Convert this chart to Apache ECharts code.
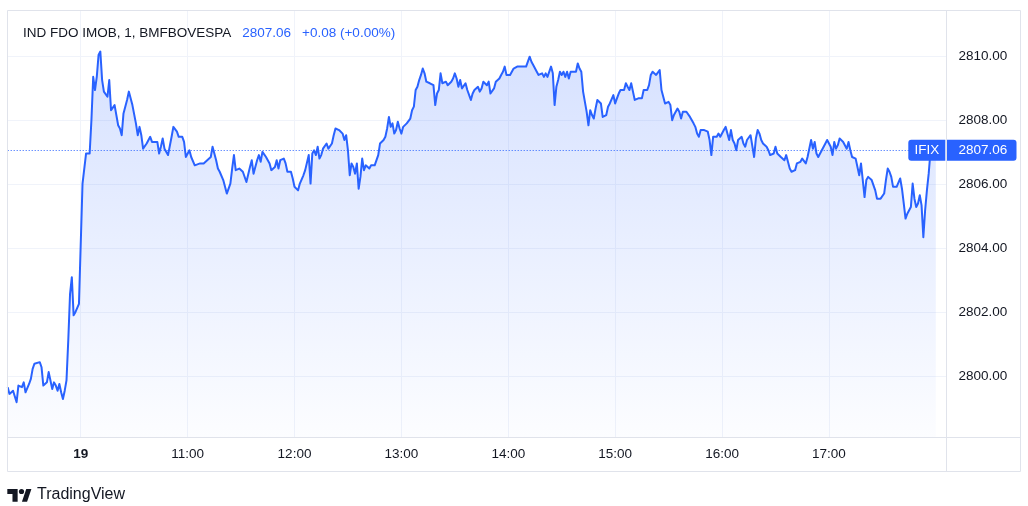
<!DOCTYPE html>
<html><head><meta charset="utf-8">
<script src="https://cdn.jsdelivr.net/npm/echarts@6.0.0/dist/echarts.min.js"></script>
<style>html,body{margin:0;padding:0;background:#fff}#c{width:1028px;height:506px}</style>
</head><body><div id="c"></div>
<script>
// ---- data ----
const symbolName = 'IND FDO IMOB, 1, BMFBOVESPA';
const tickerLabel = 'IFIX';
const lastPrice = 2807.06;
const priceChange = 0.08;
const priceChangePct = 0.00;
const dayLabel = '19';          // shown instead of the session-open hour
const sessionOpen = '10:00';
const firstMinute = 9 * 60 + 19; // 09:19, left edge of the view
const lastMinute = 18 * 60 + 6;  // 18:06, right edge of the view
const yViewMin = 2798.10;
const yViewMax = 2811.42;
const brandName = 'TradingView';

// one value per minute starting 09:19 (null = not read)
const prices = [
  2799.67,2799.46,null,2799.56,2799.61,2799.20,2799.72,null,2799.67,2799.82,
  2799.51,null,2799.77,2799.93,2800.24,2800.40,2800.34,null,2800.45,2800.29,
  2799.72,2799.77,2799.82,2800.14,2799.88,2799.61,2799.82,2799.72,2799.56,2799.77,
  2799.51,2799.30,2799.56,2799.88,2801.13,2802.58,2803.10,2801.91,2802.01,2802.06,
  2802.27,null,2806.02,2806.07,2806.96,2806.91,2806.96,2808.00,2809.35,2808.94,
  2809.35,2810.03,2810.14,2809.25,2808.89,2808.83,2808.73,2809.25,2808.31,2808.31,
  2808.47,null,2807.84,2807.74,2807.53,2808.21,null,2808.63,2808.89,2808.83,
  2808.47,2808.42,2807.89,2807.53,2807.79,2807.53,2807.11,2807.17,2807.27,2807.22,
  2807.48,2807.32,2807.38,null,2807.32,2806.96,2807.17,2807.43,2807.11,null,
  2806.91,null,2807.48,2807.79,2807.74,2807.64,2807.48,null,2807.48,2807.32,
  2806.85,2806.91,2807.06,2806.85,2806.85,2806.59,2806.59,null,2806.65,2806.59,
  2806.65,null,2806.75,2806.75,2806.85,2807.17,2807.22,2806.75,2806.49,2806.39,
  null,2806.13,2805.92,2805.71,null,2806.02,2806.49,2806.91,2806.44,2806.39,
  2806.49,null,2806.39,2806.33,2806.07,2806.02,2806.54,2806.75,2806.33,null,
  2806.75,2806.91,2806.70,2807.01,null,2806.85,2806.85,2806.65,2806.44,null,
  2806.54,2806.75,2806.49,2806.75,2806.80,2806.80,2806.65,2806.39,null,2806.39,
  2806.18,2805.92,2805.86,2805.81,2806.02,null,2806.28,2806.44,2806.39,2806.91,
  2806.02,2806.96,2807.06,2806.91,2807.17,2806.80,2806.91,2807.11,2807.11,2807.27,
  2807.11,2807.17,2807.27,2807.53,2807.74,null,2807.69,2807.69,2807.58,2807.38,
  2807.53,2807.06,2806.28,2806.65,2806.54,2806.33,2806.65,2805.86,2806.23,2806.80,
  2806.44,2806.59,null,2806.49,2806.59,2806.54,2806.59,null,2806.91,2807.27,
  null,2807.38,2807.48,2807.74,2808.10,2807.79,2807.90,2807.58,2807.69,2807.95,
  2807.74,2807.58,2807.79,2807.84,2807.90,null,2808.05,2808.31,2808.42,2808.94,
  2809.04,2809.25,2809.41,2809.61,2809.46,2809.20,null,2809.15,2809.15,2809.09,
  2808.47,2808.83,2808.94,2809.46,2809.15,2809.09,2809.20,2809.09,2809.09,2809.20,
  2809.30,2809.46,2809.30,2809.04,2809.25,2808.99,2808.99,2809.15,2808.94,2808.94,
  2808.63,2808.83,2808.94,2808.99,2809.04,2808.89,2808.99,2809.20,2809.20,2809.09,
  2809.20,2808.83,2808.83,2808.99,2809.20,2809.25,2809.30,2809.41,2809.51,2809.67,
  2809.41,2809.46,2809.41,2809.51,2809.61,null,2809.67,2809.72,null,2809.67,
  2809.72,2809.67,2809.61,2809.98,2809.82,2809.72,null,2809.51,2809.41,2809.41,
  2809.46,2809.35,2809.46,2809.35,null,2809.67,2809.46,2808.47,2809.04,2809.25,
  2809.51,2809.41,2809.51,2809.35,2809.51,2809.30,2809.51,2809.46,null,2809.51,
  2809.77,2809.61,2809.51,2808.89,2808.83,2808.26,2807.84,2808.31,2808.16,2808.05,
  2808.36,2808.63,2808.68,2808.52,2808.10,2808.05,2808.16,2808.42,2808.52,2808.57,
  2808.78,2808.52,2808.68,2808.83,2808.94,2808.99,2808.94,2809.15,2809.04,2808.94,
  2809.15,2808.89,2808.63,2808.68,2808.68,2808.73,2808.68,2808.94,2808.99,2808.94,
  2809.09,2809.41,2809.51,2809.56,2809.41,2809.46,2809.56,2808.94,2808.89,2808.52,
  2808.57,2808.57,2808.47,2808.00,2808.16,2808.26,2808.36,2808.26,2808.05,2808.26,
  2808.31,2808.26,2808.21,2808.10,2808.05,2807.90,2807.79,2807.58,2807.48,2807.69,
  2807.64,2807.69,2807.69,2807.64,2807.38,2806.91,2807.48,2807.53,2807.48,2807.58,
  2807.48,2807.53,2807.69,2807.79,2807.74,2807.38,2807.69,2807.38,2807.27,2807.06,
  2807.38,2807.43,2807.48,2807.27,2807.17,2807.38,2807.32,2807.53,2807.48,2806.85,
  2807.43,2807.69,2807.58,2807.38,2807.27,2807.27,2807.17,2807.06,2806.91,2806.96,
  2806.96,2807.17,2806.96,2806.91,2806.85,2806.85,2806.75,2806.91,2806.70,2806.49,
  2806.39,2806.33,2806.44,2806.65,2806.70,2806.70,2806.80,2806.75,2806.65,2806.85,
  2806.85,2807.38,2807.11,2807.32,2806.96,2806.85,2806.91,2807.06,2807.06,2807.27,
  2807.38,2807.38,2807.17,2806.91,2807.32,2807.11,2807.22,2807.43,2807.48,2807.32,
  2807.38,2807.11,2807.32,2807.06,2806.85,2806.85,2806.80,2806.75,2806.28,2806.65,
  2806.13,2805.60,2806.13,2806.23,2806.28,2806.13,2806.13,2805.81,2805.55,2805.55,
  2805.55,2805.55,2805.71,2806.13,2806.49,2806.39,2806.23,2805.92,2805.92,2805.92,
  2805.97,2806.18,2805.86,2805.40,2804.93,2805.08,2805.03,2805.29,2806.02,2805.55,
  2805.29,2805.40,2805.66,2805.34,2804.35,2805.19,2805.81,2806.33,2807.01,2807.10,
  2807.04,2807.06
];

// minute categories of the time axis
const categories = [];
for (let m = firstMinute; m <= lastMinute; m++) {
  categories.push(String(Math.floor(m / 60)).padStart(2, '0') + ':' + String(m % 60).padStart(2, '0'));
}

// ---- styling ----
const FONT = '"Liberation Sans", Arial, sans-serif';
const TXT = '#131722';
const BLUE = '#2962FF';
const FRAME = '#e0e3eb';
const GRIDC = '#f0f3fa';
const FS = 13.5;
// hour marks only inside the traded range (the closing bar gets no label)
const hourTick = (i, v) => v.slice(3) === '00' && i < prices.length - 1;
const sign = v => (v >= 0 ? '+' : '');

const chart = echarts.init(document.getElementById('c'), null, { renderer: 'canvas' });

// TradingView mark (36x28 icon units) scaled into the footer
const LS = 0.86, LX = 5.6, LY = 483.8;
const lp = (u, v) => [LX + u * LS, LY + v * LS];

const frameGraphics = [
  { id: 'frame', type: 'rect', z: 50, silent: true,
    shape: { x: 7.5, y: 10.5, width: 1013, height: 461 },
    style: { fill: null, stroke: FRAME, lineWidth: 1 } },
  { id: 'vsep', type: 'line', z: 50, silent: true,
    shape: { x1: 946.5, y1: 10.5, x2: 946.5, y2: 471.5 },
    style: { stroke: FRAME, lineWidth: 1 } },
  { id: 'hsep', type: 'line', z: 50, silent: true,
    shape: { x1: 7.5, y1: 437.5, x2: 1020.5, y2: 437.5 },
    style: { stroke: FRAME, lineWidth: 1 } },
  { id: 'logoT', type: 'polygon', z: 50, silent: true,
    shape: { points: [lp(2, 6), lp(14, 6), lp(14, 21), lp(8, 21), lp(8, 12), lp(2, 12)] },
    style: { fill: TXT } },
  { id: 'logoV', type: 'polygon', z: 50, silent: true,
    shape: { points: [lp(19, 21), lp(25, 21), lp(30, 6), lp(24, 6)] },
    style: { fill: TXT } },
  { id: 'logoDot', type: 'circle', z: 50, silent: true,
    shape: { cx: lp(18.5, 9)[0], cy: lp(18.5, 9)[1], r: 3 * LS },
    style: { fill: TXT } },
  { id: 'brand', type: 'text', z: 50, silent: true, x: 37, y: 494.5,
    style: { text: brandName, fill: TXT, font: '16px ' + FONT, verticalAlign: 'middle', textAlign: 'left' } }
];

const option = {
  animation: false,
  backgroundColor: '#ffffff',
  textStyle: { fontFamily: FONT },
  title: {
    left: 18, top: 20,
    text: '{n|' + symbolName + '}{p|' + lastPrice.toFixed(2) + '}{c|' + sign(priceChange) + priceChange.toFixed(2) +
          ' (' + sign(priceChangePct) + priceChangePct.toFixed(2) + '%)}',
    textStyle: {
      fontWeight: 'normal',
      rich: {
        n: { fontSize: FS, color: TXT, fontFamily: FONT, fontWeight: 'normal', lineHeight: 16 },
        p: { fontSize: FS, color: BLUE, fontFamily: FONT, fontWeight: 'normal', lineHeight: 16, padding: [0, 0, 0, 11] },
        c: { fontSize: FS, color: BLUE, fontFamily: FONT, fontWeight: 'normal', lineHeight: 16, padding: [0, 0, 0, 11] }
      }
    }
  },
  grid: { left: 7.7, right: 81.5, top: 10.5, bottom: 68.5, containLabel: false, outerBoundsMode: 'none' },
  xAxis: {
    type: 'category', data: categories, boundaryGap: false,
    axisLine: { show: false }, axisTick: { show: false },
    axisLabel: {
      interval: hourTick, margin: 10, color: TXT, fontSize: FS, fontFamily: FONT,
      formatter: v => (v === sessionOpen ? '{d|' + dayLabel + '}' : v),
      rich: { d: { fontWeight: 'bold', fontSize: FS, color: TXT, fontFamily: FONT } }
    },
    splitLine: { show: true, interval: hourTick, lineStyle: { color: GRIDC, width: 1 } }
  },
  yAxis: {
    type: 'value', position: 'right', min: yViewMin, max: yViewMax,
    minInterval: 2, maxInterval: 2, splitNumber: 7,
    axisLine: { show: false }, axisTick: { show: false },
    axisLabel: { showMinLabel: false, showMaxLabel: false, margin: 12, color: TXT, fontSize: FS, fontFamily: FONT,
                 formatter: v => v.toFixed(2) },
    splitLine: { show: true, lineStyle: { color: GRIDC, width: 1 } }
  },
  series: [{
    type: 'line', data: prices, connectNulls: true, showSymbol: false, symbol: 'none',
    lineStyle: { color: BLUE, width: 2, join: 'round' }, itemStyle: { color: BLUE },
    areaStyle: {
      origin: 'start',
      color: new echarts.graphic.LinearGradient(0, 0, 0, 1, [
        { offset: 0, color: 'rgba(41,98,255,0.27)' },
        { offset: 1, color: 'rgba(41,98,255,0.02)' }
      ])
    },
    emphasis: { disabled: true },
    markLine: {
      silent: true, symbol: 'none', animation: false,
      label: { show: false },
      lineStyle: { color: BLUE, width: 1, type: [1, 2] },
      emphasis: { disabled: true },
      data: [{ yAxis: lastPrice }]
    }
  }],
  graphic: frameGraphics
};

chart.setOption(option);

// last-price tags placed through the library's y scale
const py = chart.convertToPixel({ yAxisIndex: 0 }, lastPrice);
chart.setOption({
  graphic: frameGraphics.concat([
    { id: 'tagIfix', type: 'rect', z: 60, silent: true,
      shape: { x: 908.3, y: py - 10.5, width: 37, height: 21, r: [3, 0, 0, 3] },
      style: { fill: BLUE } },
    { id: 'tagIfixTxt', type: 'text', z: 61, silent: true, x: 926.8, y: py,
      style: { text: tickerLabel, fill: '#ffffff', font: FS + 'px ' + FONT, textAlign: 'center', verticalAlign: 'middle' } },
    { id: 'tagPrice', type: 'rect', z: 60, silent: true,
      shape: { x: 947, y: py - 10.5, width: 69.5, height: 21, r: [0, 3, 3, 0] },
      style: { fill: BLUE } },
    { id: 'tagPriceTxt', type: 'text', z: 61, silent: true, x: 958.5, y: py,
      style: { text: lastPrice.toFixed(2), fill: '#ffffff', font: FS + 'px ' + FONT, textAlign: 'left', verticalAlign: 'middle' } }
  ])
});
</script>
</body></html>
